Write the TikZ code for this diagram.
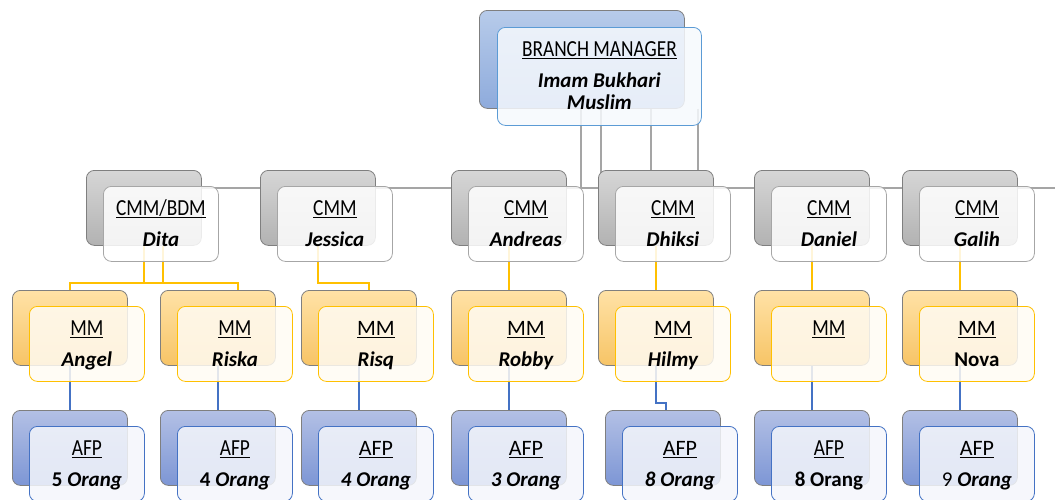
\documentclass[tikz,border=0pt]{standalone}
\usepackage{fontspec}
\setmainfont{Carlito}
\newfontfamily\condfamily[FakeStretch=0.84]{Carlito}
\newcommand\condfont{\condfamily\fontsize{23}{24}\selectfont}
\newcommand\regfont{\fontsize{22}{23}\selectfont}
\usetikzlibrary{backgrounds,calc}
\definecolor{grayT}{HTML}{D6D6D6}
\definecolor{grayB}{HTML}{B2B2B2}
\definecolor{bordergray}{HTML}{7F7F7F}
\definecolor{cmmline}{HTML}{A6A6A6}
\definecolor{orangeT}{HTML}{FFE2A6}
\definecolor{orangeB}{HTML}{F7C466}
\definecolor{gold}{HTML}{FFC000}
\definecolor{mmfill}{HTML}{FFFBF3}
\definecolor{blueT}{HTML}{B3C0E5}
\definecolor{blueB}{HTML}{7D96D5}
\definecolor{afpline}{HTML}{4472C4}
\definecolor{afpfill}{HTML}{F4F6FB}
\definecolor{bmT}{HTML}{B7CBEA}
\definecolor{bmB}{HTML}{8EABDC}
\definecolor{bmline}{HTML}{5B9BD5}
\definecolor{bmfill}{HTML}{F6F9FD}
\definecolor{linegray}{HTML}{A5A5A5}
\newcommand\ulab[1]{\leavevmode\setbox0=\hbox{#1}\rlap{\rule[-2.6pt]{\wd0}{1.1pt}}\box0}
\newcommand\nmi[1]{{\bfseries\itshape #1}}
\tikzset{
  box/.style={rectangle, rounded corners=8pt, minimum width=115pt, minimum height=75pt, inner sep=0pt, anchor=north west, line width=0.8pt},
  grayback/.style={box, draw=bordergray, top color=grayT, bottom color=grayB},
  grayfront/.style={box, draw=cmmline, fill=white, fill opacity=0.85},
  orangeback/.style={box, draw=bordergray, top color=orangeT, bottom color=orangeB},
  orangefront/.style={box, draw=gold, fill=mmfill, fill opacity=0.85},
  blueback/.style={box, draw=bordergray, top color=blueT, bottom color=blueB},
  bluefront/.style={box, draw=afpline, fill=afpfill, fill opacity=0.85},
  lbl/.style={anchor=base, inner sep=0pt, font=\fontsize{21}{22}\selectfont},
  gline/.style={draw=linegray, line width=2pt},
  yline/.style={draw=gold, line width=2pt},
  bline/.style={draw=afpline, line width=2pt},
}
\newcommand\orgunit[7]{%
  \node[#4back] (#1b) at (#2,#3) {};
  \node[#4front] (#1f) at ($(#1b.north west)+(#5,16)$) {};
  \node[lbl] (#1l) at ([yshift=-29pt]#1f.north) {#6};
  \node[lbl] (#1n) at ([yshift=-60pt]#1f.north) {#7};
}
\begin{document}
\begin{tikzpicture}[x=1pt,y=-1pt]
\useasboundingbox (0,0) rectangle (1055,499);
\clip (0,0) rectangle (1055,499);
% branch manager
\node[box, minimum width=205pt, minimum height=98pt, draw=bordergray, top color=bmT, bottom color=bmB] (bmb) at (479,10) {};
\node[box, minimum width=204pt, minimum height=98pt, draw=bmline, fill=bmfill, fill opacity=0.85] (bmf) at (497,27) {};
\node[lbl] (bml) at ([yshift=-29pt]bmf.north) {\condfont\ulab{BRANCH MANAGER}};
\node[lbl] (bmn1) at ([yshift=-60pt]bmf.north) {\nmi{Imam Bukhari}};
\node[lbl] (bmn2) at ([yshift=-82pt]bmf.north) {\nmi{Muslim}};
% CMM row
\orgunit{cmm1}{86}{170}{gray}{17}{\condfont\ulab{CMM/BDM}}{\nmi{Dita}}
\orgunit{cmm2}{260}{170}{gray}{17}{\condfont\ulab{CMM}}{\nmi{Jessica}}
\orgunit{cmm3}{451}{170}{gray}{17}{\condfont\ulab{CMM}}{\nmi{Andreas}}
\orgunit{cmm4}{598}{170}{gray}{17}{\condfont\ulab{CMM}}{\nmi{Dhiksi}}
\orgunit{cmm5}{754}{170}{gray}{17}{\condfont\ulab{CMM}}{\nmi{Daniel}}
\orgunit{cmm6}{902}{170}{gray}{17}{\condfont\ulab{CMM}}{\nmi{Galih}}
% MM row
\orgunit{mm1}{12}{290}{orange}{17}{\condfont\ulab{MM}}{\nmi{Angel}}
\orgunit{mm2}{160}{290}{orange}{17}{\condfont\ulab{MM}}{\nmi{Riska}}
\orgunit{mm3}{301}{290}{orange}{17}{\regfont\ulab{MM}}{\nmi{Risq}}
\orgunit{mm4}{451}{290}{orange}{17}{\regfont\ulab{MM}}{\nmi{Robby}}
\orgunit{mm5}{598}{290}{orange}{17}{\regfont\ulab{MM}}{\nmi{Hilmy}}
\orgunit{mm6}{754}{290}{orange}{17}{\condfont\ulab{MM}}{}
\orgunit{mm7}{902}{290}{orange}{17}{\regfont\ulab{MM}}{\textbf{Nova}}
% AFP row
\orgunit{afp1}{12}{410}{blue}{17}{\condfont\ulab{AFP}}{\textbf{5 \textit{Orang}}}
\orgunit{afp2}{160}{410}{blue}{17}{\condfont\ulab{AFP}}{\textbf{4 \textit{Orang}}}
\orgunit{afp3}{301}{410}{blue}{17}{\regfont\ulab{AFP}}{\nmi{4 Orang}}
\orgunit{afp4}{451}{410}{blue}{17}{\regfont\ulab{AFP}}{\nmi{3 Orang}}
\orgunit{afp5}{605}{410}{blue}{17}{\regfont\ulab{AFP}}{\nmi{8 Orang}}
\orgunit{afp6}{754}{410}{blue}{17}{\condfont\ulab{AFP}}{\textbf{8 Orang}}
\orgunit{afp7}{902}{410}{blue}{17}{\regfont\ulab{AFP}}{9 \nmi{Orang}}
% connectors
\coordinate (hl) at (0,188);
\coordinate (yl) at (0,283);
\coordinate (bj) at (0,403);
\begin{scope}[on background layer]
  \draw[gline] (cmm1b.south |- hl) -- (1055,0 |- hl);
  \draw[gline] (581,0 |- bmb.south) -- (581,0 |- hl);
  \draw[gline] (601,0 |- bmb.south) -- (601,0 |- hl);
  \draw[gline] (651,0 |- bmb.south) -- (651,0 |- hl);
  \draw[gline] (698,0 |- bmb.south) -- (698,0 |- hl);
  % gold
  \draw[yline] (cmm1b.south) -- (cmm1b.south |- yl);
  \draw[yline] (163,0 |- cmm1b.south) -- (163,0 |- yl);
  \draw[yline] (mm1b.north) -- (mm1b.north |- yl) -- (238,0 |- yl) -- (238,0 |- mm2b.north);
  \draw[yline] (cmm2b.south) -- (cmm2b.south |- yl) -- (369,0 |- yl) -- (369,0 |- mm3b.north);
  \draw[yline] (cmm3b.south) -- (mm4b.north);
  \draw[yline] (cmm4b.south) -- (mm5b.north);
  \draw[yline] (cmm5b.south) -- (mm6b.north);
  \draw[yline] (cmm6b.south) -- (mm7b.north);
  % blue
  \draw[bline] (mm1b.south) -- (afp1b.north);
  \draw[bline] (mm2b.south) -- (afp2b.north);
  \draw[bline] (mm3b.south) -- (afp3b.north);
  \draw[bline] (mm4b.south) -- (afp4b.north);
  \draw[bline] (mm5b.south) -- (mm5b.south |- bj) -- (666,0 |- bj) -- (666,0 |- afp5b.north);
  \draw[bline] (mm6b.south) -- (afp6b.north);
  \draw[bline] (mm7b.south) -- (afp7b.north);
\end{scope}
\end{tikzpicture}
\end{document}
